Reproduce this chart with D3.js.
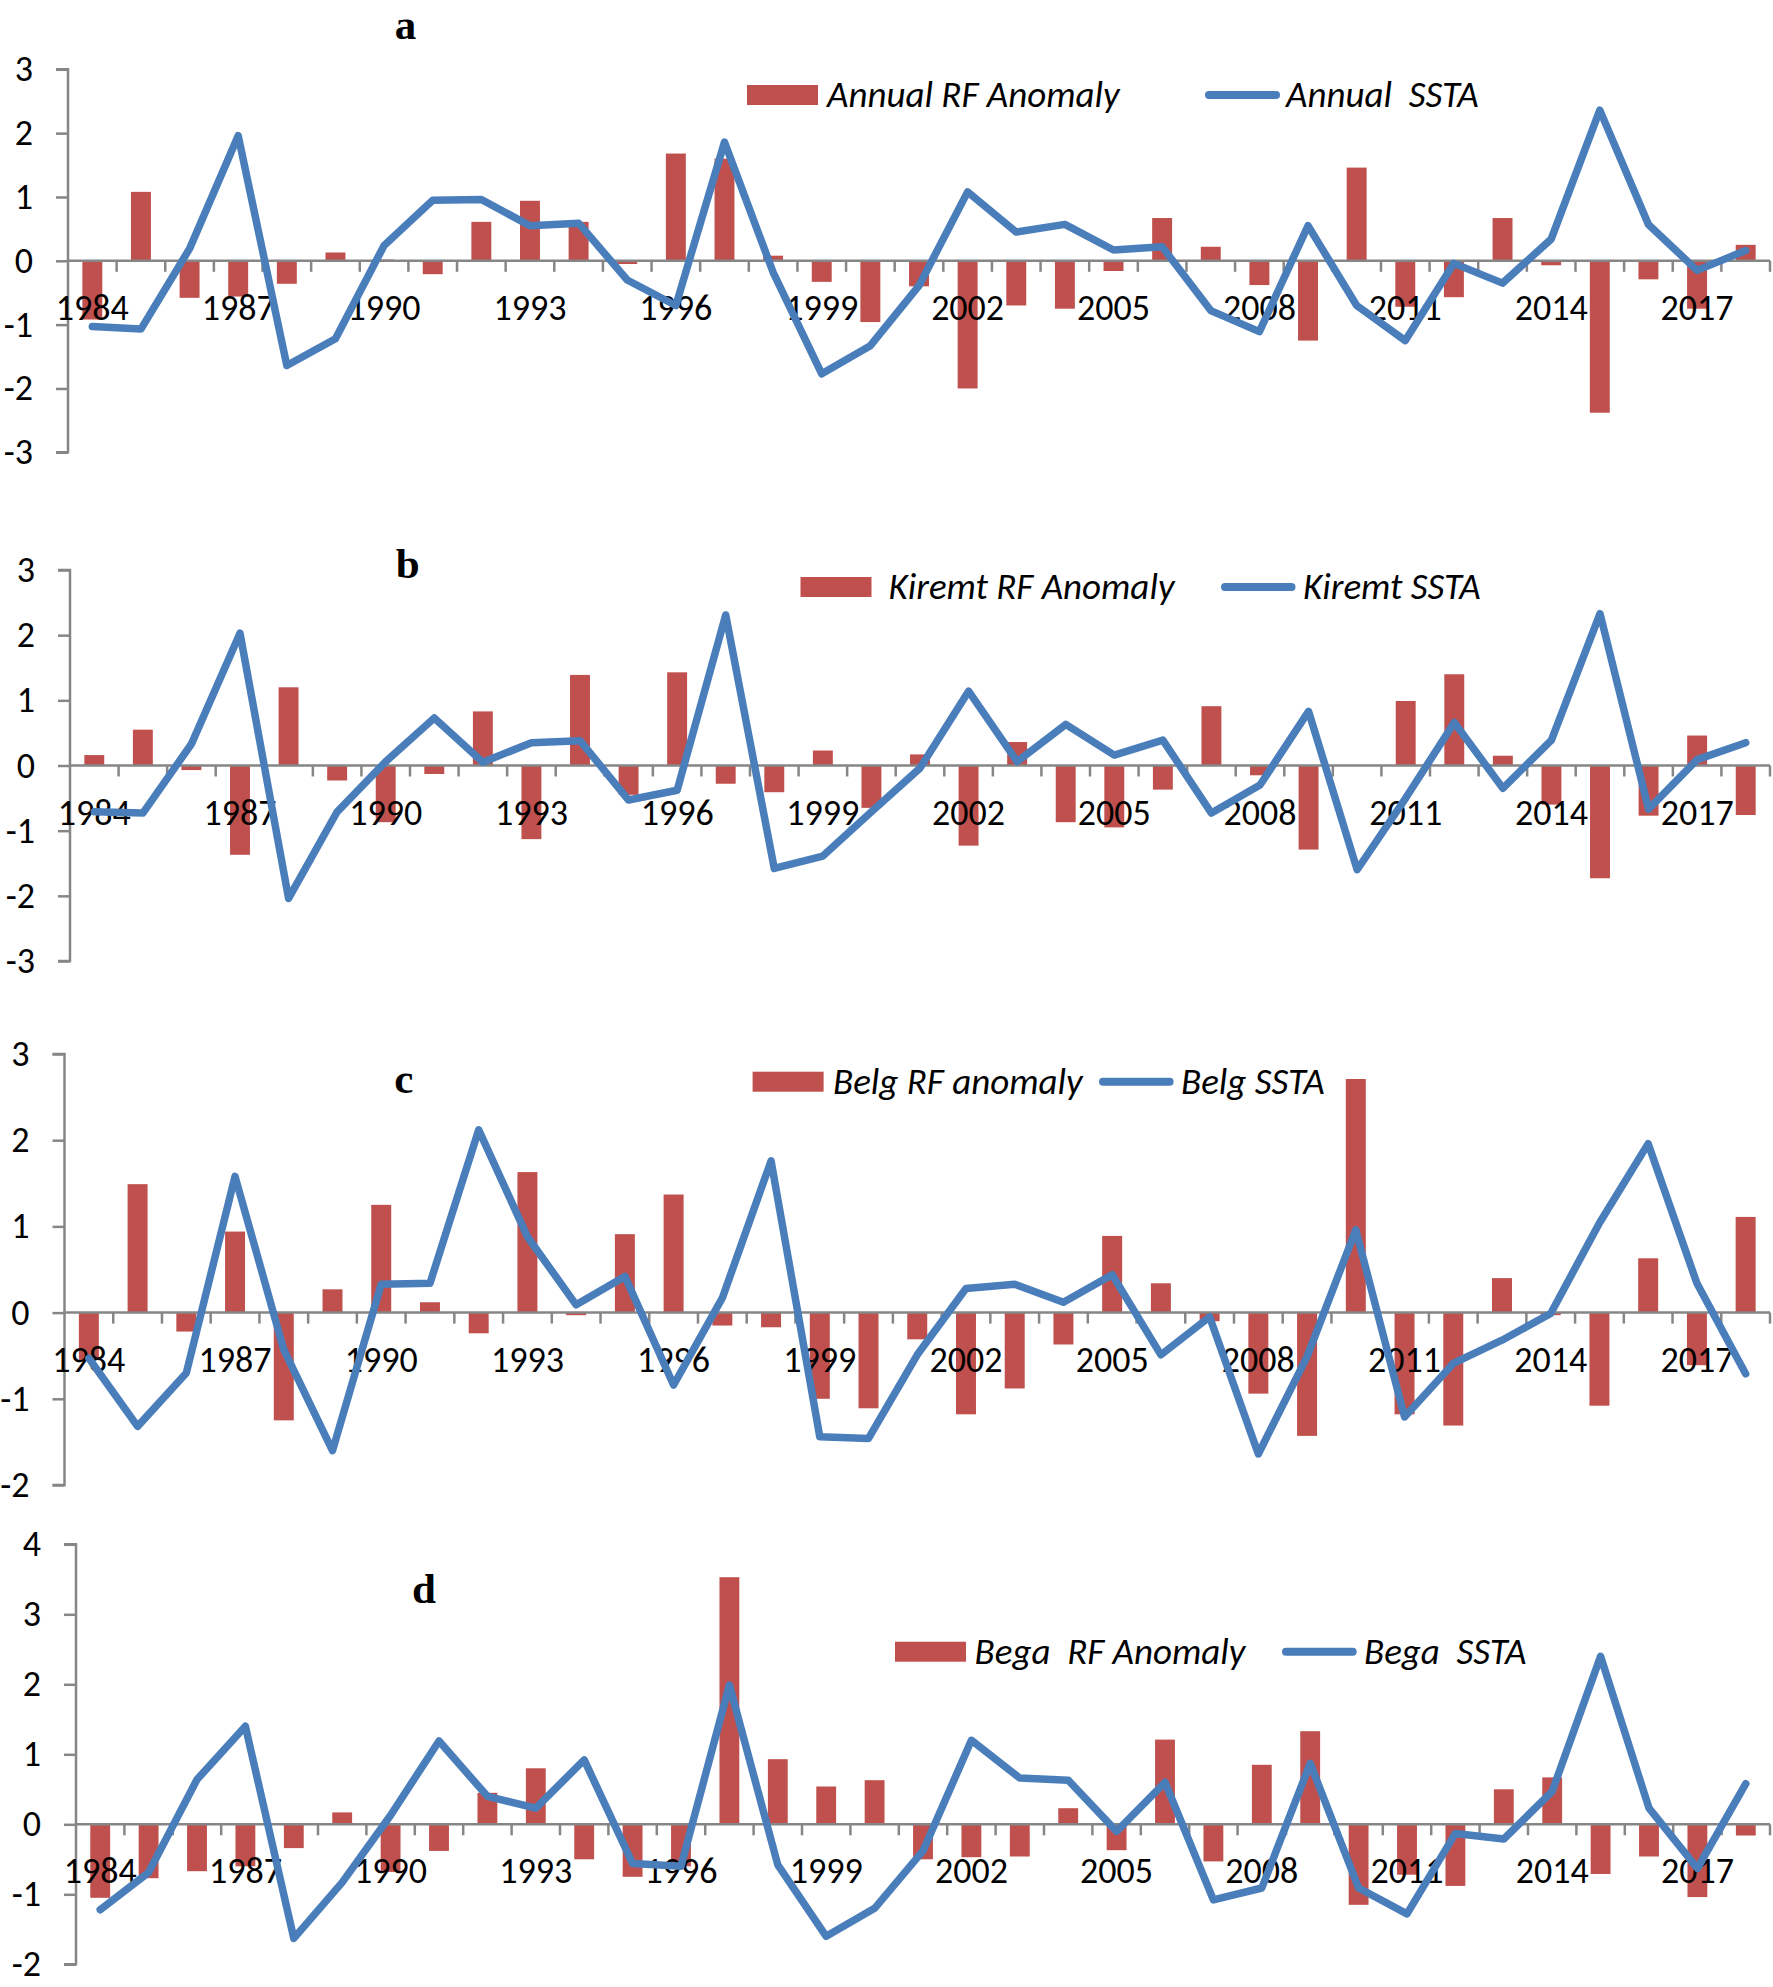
<!DOCTYPE html>
<html>
<head>
<meta charset="utf-8">
<script src="https://cdn.jsdelivr.net/npm/d3@7"></script>
<style>
  html, body { margin: 0; padding: 0; background: #fff; }
  svg { display: block; }
</style>
</head>
<body>
<svg id="chart" width="1773" height="1987"></svg>
<script>
// ---------------- DATA ----------------
const years = ["1984","1985","1986","1987","1988","1989","1990","1991","1992","1993","1994","1995","1996","1997","1998","1999","2000","2001","2002","2003","2004","2005","2006","2007","2008","2009","2010","2011","2012","2013","2014","2015","2016","2017","2018"];
const xTickLabels = ["1984","1987","1990","1993","1996","1999","2002","2005","2008","2011","2014","2017"];

const ticksA = [-3, -2, -1, 0, 1, 2, 3];
const ticksB = [-3, -2, -1, 0, 1, 2, 3];
const ticksC = [-2, -1, 0, 1, 2, 3];
const ticksD = [-2, -1, 0, 1, 2, 3, 4];

const annualRF   = [-0.92, 1.08, -0.58, -0.56, -0.36, 0.13, 0.02, -0.21, 0.61, 0.94, 0.61, -0.05, 1.68, 1.60, 0.08, -0.33, -0.96, -0.40, -2.00, -0.70, -0.75, -0.16, 0.67, 0.22, -0.38, -1.25, 1.46, -0.72, -0.57, 0.67, -0.07, -2.38, -0.29, -0.75, 0.25];
const annualSSTA = [-1.03, -1.07, 0.19, 1.96, -1.64, -1.22, 0.24, 0.95, 0.96, 0.55, 0.59, -0.30, -0.70, 1.86, -0.18, -1.77, -1.33, -0.39, 1.08, 0.45, 0.57, 0.17, 0.22, -0.78, -1.11, 0.55, -0.70, -1.25, -0.04, -0.35, 0.34, 2.36, 0.57, -0.15, 0.16];

const kiremtRF   = [0.16, 0.55, -0.07, -1.37, 1.20, -0.23, -0.87, -0.13, 0.83, -1.13, 1.39, -0.45, 1.43, -0.28, -0.41, 0.23, -0.65, 0.17, -1.23, 0.36, -0.87, -0.95, -0.37, 0.91, -0.15, -1.29, 0.00, 0.99, 1.40, 0.15, -0.60, -1.73, -0.77, 0.46, -0.76];
const kiremtSSTA = [-0.71, -0.73, 0.33, 2.03, -2.04, -0.71, 0.06, 0.73, 0.05, 0.35, 0.38, -0.53, -0.38, 2.31, -1.58, -1.39, -0.71, -0.04, 1.14, 0.06, 0.63, 0.16, 0.39, -0.73, -0.30, 0.83, -1.60, -0.50, 0.66, -0.35, 0.39, 2.33, -0.67, 0.09, 0.35];

const belgRF   = [-0.55, 1.49, -0.22, 0.94, -1.25, 0.27, 1.25, 0.12, -0.24, 1.63, -0.03, 0.91, 1.37, -0.15, -0.17, -1.00, -1.11, -0.31, -1.18, -0.88, -0.37, 0.89, 0.34, -0.10, -0.94, -1.43, 2.71, -1.18, -1.31, 0.40, -0.03, -1.08, 0.63, -0.61, 1.11];
const belgSSTA = [-0.53, -1.32, -0.70, 1.58, -0.43, -1.60, 0.33, 0.34, 2.12, 0.88, 0.09, 0.42, -0.84, 0.17, 1.76, -1.44, -1.46, -0.49, 0.28, 0.33, 0.12, 0.44, -0.49, -0.05, -1.64, -0.51, 0.96, -1.21, -0.59, -0.32, -0.01, 1.04, 1.96, 0.34, -0.71];

const begaRF   = [-1.05, -0.77, -0.67, -0.60, -0.34, 0.17, -0.68, -0.38, 0.45, 0.80, -0.50, -0.75, -0.60, 3.53, 0.93, 0.54, 0.63, -0.50, -0.47, -0.46, 0.23, -0.37, 1.21, -0.53, 0.85, 1.33, -1.15, -0.72, -0.88, 0.50, 0.67, -0.71, -0.46, -1.04, -0.16];
const begaSSTA = [-1.22, -0.69, 0.64, 1.40, -1.63, -0.83, 0.13, 1.19, 0.40, 0.23, 0.92, -0.56, -0.60, 1.99, -0.58, -1.60, -1.20, -0.38, 1.20, 0.66, 0.63, -0.10, 0.60, -1.08, -0.91, 0.87, -0.91, -1.28, -0.13, -0.21, 0.47, 2.40, 0.23, -0.63, 0.58];

const panelTitles = ["a", "b", "c", "d"];
const rfLabels    = ["Annual RF Anomaly", "Kiremt RF Anomaly", "Belg RF anomaly", "Bega  RF Anomaly"];
const sstaLabels  = ["Annual  SSTA", "Kiremt SSTA", "Belg SSTA", "Bega  SSTA"];

// ---------------- LAYOUT ----------------
const RED = "#C0504D", BLUE = "#4A7EBB", AXIS = "#868686";
const FONT = "Carlito, Calibri, Lato, sans-serif";
const xRight = 1770;

const panels = [
  { rf: annualRF, ssta: annualSSTA, ticks: ticksA, axisX: 68, yTop: 69.3, yBot: 452.3,
    titleX: 405.6, titleY: 38.5, rectX: 747, legY: 95, lineX1: 1205, lineX2: 1280, text1X: 827, text2X: 1286 },
  { rf: kiremtRF, ssta: kiremtSSTA, ticks: ticksB, axisX: 70, yTop: 570, yBot: 961,
    titleX: 407.6, titleY: 578, rectX: 800.5, legY: 587, lineX1: 1221, lineX2: 1295.5, text1X: 888.5, text2X: 1303 },
  { rf: belgRF, ssta: belgSSTA, ticks: ticksC, axisX: 64.5, yTop: 1054, yBot: 1485,
    titleX: 403.7, titleY: 1093, rectX: 752.6, legY: 1081.7, lineX1: 1099, lineX2: 1173.6, text1X: 833, text2X: 1181 },
  { rf: begaRF, ssta: begaSSTA, ticks: ticksD, axisX: 76, yTop: 1544.3, yBot: 1964.3,
    titleX: 424, titleY: 1603, rectX: 895, legY: 1651.7, lineX1: 1282, lineX2: 1356.7, text1X: 974.6, text2X: 1364 }
];

const svg = d3.select("#chart");

panels.forEach((p, i) => {
  const g = svg.append("g");
  const x = d3.scaleBand().domain(years).range([p.axisX, xRight]);
  const y = d3.scaleLinear().domain(d3.extent(p.ticks)).range([p.yBot, p.yTop]);
  const y0 = y(0);
  const bw = x.bandwidth() * 0.41;

  // Y axis
  const yAxis = d3.axisLeft(y).tickValues(p.ticks).tickSize(12).tickPadding(23).tickFormat(d => String(d));
  const ya = g.append("g").attr("transform", `translate(${p.axisX},0)`).call(yAxis);
  ya.select(".domain").attr("stroke", AXIS).attr("stroke-width", 2.5).attr("d", `M-12,${p.yTop}H0V${p.yBot}H-12`);
  ya.selectAll(".tick line").attr("stroke", AXIS).attr("stroke-width", 2.5);
  ya.selectAll(".tick text").attr("font-family", FONT).attr("font-size", 36).attr("fill", "#000").attr("dy", "0.32em");

  // Bars
  g.append("g").selectAll("rect").data(p.rf).join("rect")
    .attr("x", (d, j) => x(years[j]) + (x.bandwidth() - bw) / 2)
    .attr("width", bw)
    .attr("y", d => Math.min(y(d), y0))
    .attr("height", d => Math.abs(y(d) - y0))
    .attr("fill", RED);

  // X axis at zero (category boundary ticks)
  const xa = g.append("g");
  xa.append("line").attr("x1", p.axisX).attr("x2", xRight).attr("y1", y0).attr("y2", y0)
    .attr("stroke", AXIS).attr("stroke-width", 2.5);
  const bounds = years.map(yr => x(yr)).concat([xRight]).slice(1);
  xa.selectAll("line.tk").data(bounds).join("line").attr("class", "tk")
    .attr("x1", d => d).attr("x2", d => d).attr("y1", y0).attr("y2", y0 + 11)
    .attr("stroke", AXIS).attr("stroke-width", 2.5);
  xa.selectAll("text").data(xTickLabels).join("text")
    .attr("x", d => x(d) + x.bandwidth() / 2)
    .attr("y", y0 + 59)
    .attr("text-anchor", "middle")
    .attr("font-family", FONT).attr("font-size", 36).attr("fill", "#000")
    .text(d => d);

  // Line
  const line = d3.line().x((d, j) => x(years[j]) + x.bandwidth() / 2).y(d => y(d));
  g.append("path").datum(p.ssta).attr("d", line)
    .attr("fill", "none").attr("stroke", BLUE).attr("stroke-width", 7.5)
    .attr("stroke-linejoin", "round").attr("stroke-linecap", "round");

  // Title
  g.append("text").attr("x", p.titleX).attr("y", p.titleY).attr("text-anchor", "middle")
    .attr("font-family", "'Liberation Serif', 'Times New Roman', serif").attr("font-weight", "bold")
    .attr("font-size", 43).text(panelTitles[i]);

  // Legend
  g.append("rect").attr("x", p.rectX).attr("y", p.legY - 10).attr("width", 71).attr("height", 20).attr("fill", RED);
  g.append("text").attr("x", p.text1X).attr("y", p.legY + 12)
    .attr("font-family", FONT).attr("font-style", "italic").attr("font-size", 37)
    .style("white-space", "pre").text(rfLabels[i]);
  g.append("line").attr("x1", p.lineX1 + 4).attr("x2", p.lineX2 - 4).attr("y1", p.legY).attr("y2", p.legY)
    .attr("stroke", BLUE).attr("stroke-width", 8).attr("stroke-linecap", "round");
  g.append("text").attr("x", p.text2X).attr("y", p.legY + 12)
    .attr("font-family", FONT).attr("font-style", "italic").attr("font-size", 37)
    .style("white-space", "pre").text(sstaLabels[i]);
});
</script>
</body>
</html>
